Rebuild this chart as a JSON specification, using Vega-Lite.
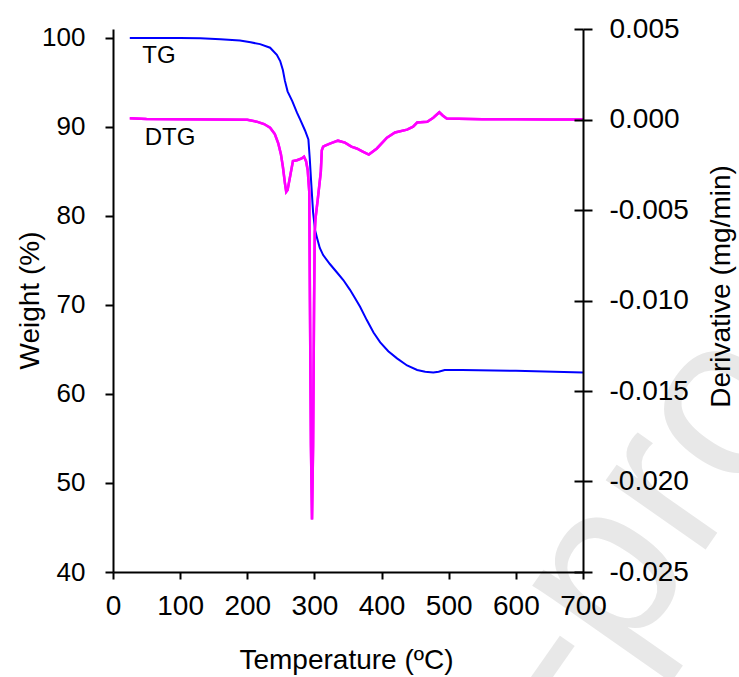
{
  "$schema": "https://vega.github.io/schema/vega-lite/v6.json",
  "autosize": {"type": "none"},
  "padding": {"left": 113, "top": 29, "right": 156, "bottom": 105},
  "width": 470,
  "height": 543,
  "background": "white",
  "config": {
    "view": {"stroke": null},
    "font": "Liberation Sans",
    "axis": {
      "grid": false,
      "domainColor": "black",
      "tickColor": "black",
      "labelColor": "black",
      "titleColor": "black",
      "labelFont": "Liberation Sans",
      "titleFont": "Liberation Sans",
      "titleFontWeight": "normal",
      "domainWidth": 2,
      "tickWidth": 2
    }
  },
  "datasets": {
    "wm": [
      {"T": 785, "W": 45.5, "label": "-pro"}
    ],
    "tg": [
      {"T": 25, "W": 100.0}, {"T": 60, "W": 100.0}, {"T": 100, "W": 100.0}, {"T": 130, "W": 99.95},
      {"T": 160, "W": 99.85}, {"T": 189, "W": 99.7}, {"T": 205, "W": 99.5}, {"T": 219, "W": 99.3},
      {"T": 234, "W": 98.9}, {"T": 244, "W": 98.1}, {"T": 249, "W": 97.4}, {"T": 253, "W": 96.4},
      {"T": 256, "W": 95.2}, {"T": 260, "W": 94.0}, {"T": 267, "W": 92.9}, {"T": 274, "W": 91.6},
      {"T": 279, "W": 90.8}, {"T": 286, "W": 89.6}, {"T": 291, "W": 88.6}, {"T": 293, "W": 86.5},
      {"T": 295, "W": 84.0}, {"T": 298, "W": 80.4}, {"T": 301, "W": 78.4}, {"T": 304, "W": 77.5},
      {"T": 308, "W": 76.4}, {"T": 313, "W": 75.6}, {"T": 323, "W": 74.6}, {"T": 333, "W": 73.7},
      {"T": 343, "W": 72.8}, {"T": 353, "W": 71.7}, {"T": 361, "W": 70.7}, {"T": 368, "W": 69.8},
      {"T": 378, "W": 68.3}, {"T": 388, "W": 66.9}, {"T": 398, "W": 65.8}, {"T": 410, "W": 64.8},
      {"T": 423, "W": 64.0}, {"T": 438, "W": 63.2}, {"T": 453, "W": 62.7}, {"T": 465, "W": 62.5},
      {"T": 477, "W": 62.4}, {"T": 485, "W": 62.5}, {"T": 494, "W": 62.7}, {"T": 520, "W": 62.7},
      {"T": 600, "W": 62.6}, {"T": 700, "W": 62.4}
    ],
    "dtg": [
      {"T": 25, "D": 0.00007}, {"T": 50, "D": 0.00003}, {"T": 100, "D": 0.00002}, {"T": 150, "D": 0.0},
      {"T": 200, "D": -0.00002}, {"T": 214, "D": -0.00012}, {"T": 225, "D": -0.00025}, {"T": 234, "D": -0.00045},
      {"T": 241, "D": -0.0008}, {"T": 246, "D": -0.0013}, {"T": 250, "D": -0.0019}, {"T": 253, "D": -0.0026},
      {"T": 256, "D": -0.0035}, {"T": 258, "D": -0.0040}, {"T": 260, "D": -0.0039}, {"T": 264, "D": -0.0031},
      {"T": 268, "D": -0.0023}, {"T": 274, "D": -0.00225}, {"T": 281, "D": -0.00215}, {"T": 284.5, "D": -0.00205},
      {"T": 287.5, "D": -0.0023}, {"T": 290, "D": -0.0028}, {"T": 292.3, "D": -0.0040}, {"T": 293.3, "D": -0.010},
      {"T": 294.8, "D": -0.018}, {"T": 296.4, "D": -0.0221}, {"T": 298, "D": -0.018}, {"T": 299.5, "D": -0.010},
      {"T": 300.5, "D": -0.0062}, {"T": 301.5, "D": -0.0055}, {"T": 305, "D": -0.0044}, {"T": 309.5, "D": -0.0029},
      {"T": 311, "D": -0.0017}, {"T": 313, "D": -0.0015}, {"T": 316, "D": -0.00144}, {"T": 323, "D": -0.00133},
      {"T": 335, "D": -0.00117}, {"T": 345.5, "D": -0.00128}, {"T": 355, "D": -0.0015}, {"T": 363, "D": -0.0016},
      {"T": 372, "D": -0.00177}, {"T": 381, "D": -0.00194}, {"T": 393, "D": -0.0016}, {"T": 408, "D": -0.001},
      {"T": 420, "D": -0.00072}, {"T": 438, "D": -0.00056}, {"T": 447, "D": -0.0004}, {"T": 453, "D": -0.00017},
      {"T": 468, "D": -0.00012}, {"T": 477, "D": 0.0001}, {"T": 486, "D": 0.0004}, {"T": 491, "D": 0.00022},
      {"T": 497, "D": 0.00005}, {"T": 550, "D": 0.00002}, {"T": 600, "D": 0.00002}, {"T": 650, "D": 0.0},
      {"T": 700, "D": 0.0}
    ],
    "labels": [
      {"T": 68.5, "W": 97.94, "label": "TG"},
      {"T": 84.9, "W": 88.73, "label": "DTG"}
    ]
  },
  "layer": [
    {
      "data": {"name": "wm"},
      "mark": {"type": "text", "fontSize": 230, "color": "#e8e8e8", "align": "center", "baseline": "middle", "angle": -55, "font": "Liberation Sans"},
      "encoding": {
        "x": {"field": "T", "type": "quantitative"},
        "y": {"field": "W", "type": "quantitative", "scale": {"domain": [40, 101], "nice": false, "zero": false}, "axis": null},
        "text": {"field": "label"}
      }
    },
    {
      "data": {"name": "tg"},
      "mark": {"type": "line", "color": "#0000ff", "strokeWidth": 2},
      "encoding": {
        "x": {
          "field": "T", "type": "quantitative",
          "scale": {"domain": [0, 700], "nice": false},
          "axis": {
            "title": "Temperature (ºC)", "zindex": 1,
            "values": [0, 100, 200, 300, 400, 500, 600, 700],
            "tickSize": 7, "labelFontSize": 28, "labelPadding": 13,
            "titleFontSize": 28, "titleX": 233, "titleY": 88, "titleBaseline": "middle",
            "labelFlush": false, "labelOverlap": false
          }
        },
        "y": {
          "field": "W", "type": "quantitative",
          "scale": {"domain": [40, 101], "nice": false, "zero": false},
          "axis": {
            "title": "Weight (%)", "orient": "left", "zindex": 1,
            "values": [40, 50, 60, 70, 80, 90, 100],
            "tickSize": 8, "labelFontSize": 26, "labelPadding": 20,
            "titleFontSize": 28, "titleAngle": -90, "titleX": -83, "titleY": 271, "titleBaseline": "middle",
            "labelFlush": false, "labelOverlap": false
          }
        }
      }
    },
    {
      "data": {"name": "labels"},
      "mark": {"type": "text", "fontSize": 24, "color": "black", "align": "center", "baseline": "middle", "font": "Liberation Sans"},
      "encoding": {
        "x": {"field": "T", "type": "quantitative"},
        "y": {"field": "W", "type": "quantitative", "scale": {"domain": [40, 101], "nice": false, "zero": false}, "axis": null},
        "text": {"field": "label"}
      }
    },
    {
      "data": {"name": "dtg"},
      "mark": {"type": "line", "color": "#ff00ff", "strokeWidth": 2.5},
      "encoding": {
        "x": {"field": "T", "type": "quantitative"},
        "y": {
          "field": "D", "type": "quantitative",
          "scale": {"domain": [-0.025, 0.005], "nice": false, "zero": false},
          "axis": {
            "title": "Derivative (mg/min)", "orient": "right", "zindex": 1,
            "values": [-0.025, -0.02, -0.015, -0.01, -0.005, 0, 0.005],
            "labelExpr": "replace(format(datum.value, '.3f'), '\u2212', '-')",
            "tickSize": 9, "labelFontSize": 28, "labelPadding": 17,
            "titleFontSize": 28, "titleAngle": -90, "titleX": 138, "titleY": 257, "titleBaseline": "middle",
            "labelFlush": false, "labelOverlap": false
          }
        }
      }
    },
    {
      "data": {"name": "dtg"},
      "mark": {"type": "line", "color": "#ff00ff", "strokeWidth": 2.5},
      "encoding": {
        "x": {"field": "T", "type": "quantitative"},
        "y": {
          "field": "D", "type": "quantitative",
          "scale": {"domain": [-0.025, 0.005], "nice": false, "zero": false},
          "axis": {
            "title": null, "orient": "right", "offset": -9, "zindex": 1,
            "values": [-0.025, -0.02, -0.015, -0.01, -0.005, 0, 0.005],
            "tickSize": 9, "labels": false, "domain": false
          }
        }
      }
    }
  ],
  "resolve": {"scale": {"y": "independent"}, "axis": {"y": "independent"}}
}
